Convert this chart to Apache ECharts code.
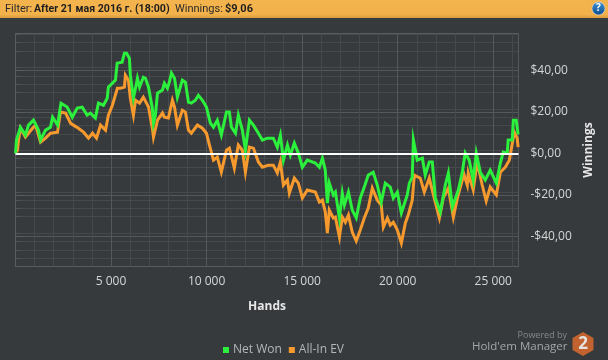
<!DOCTYPE html>
<html>
<head>
<meta charset="utf-8">
<style>html,body{margin:0;padding:0;background:#373a3d}#c{width:608px;height:360px}</style>
<script src="https://cdn.jsdelivr.net/npm/echarts@6/dist/echarts.min.js"></script>
</head>
<body>
<div id="c"></div>
<script>
const netWonHands = [0,50,260,520,680,940,1200,1310,1570,1830,1940,2200,2380,2700,2970,3230,3490,3750,3920,4180,4340,4600,4800,4860,5230,5320,5580,5700,5810,5960,6010,6170,6280,6380,6490,6690,6800,6960,7160,7220,7320,7430,7690,7790,7950,8050,8160,8320,8470,8730,8890,9050,9200,9410,9570,9780,9990,10200,10360,10560,10770,11040,11190,11300,11510,11660,11870,12030,12240,12450,12710,12920,13180,13490,13700,13860,14020,14230,14380,14590,14800,15010,15270,15690,15900,16060,16210,16320,16420,16630,16740,16950,17100,17210,17420,17620,17830,18040,18250,18460,18720,18930,19140,19350,19610,19770,19980,20190,20500,20610,20760,20820,20920,21020,21290,21440,21650,21810,21970,22230,22490,22650,22860,23170,23380,23530,23740,23950,24110,24320,24580,24840,25160,25370,25520,25730,25780,25990,26050,26200,26300];
const netWonValues = [0,6.4,12.6,8.8,13.6,16,11.2,6.4,11.2,12.6,17.4,13.6,24.2,22.3,17.4,21.8,22.3,18.4,19.4,17,24.2,23.2,26.6,31.9,35.3,43.5,44,48.3,48.3,45.9,37.7,26.6,31.4,36.2,31.9,36.7,36.2,31.9,21.8,14.5,18.4,29,30.5,33.8,31.4,34.3,38.7,36.2,27.1,35.3,34.3,24.7,24.2,25.6,28,25.6,22.3,14.5,12.6,16,8.8,19.9,19.9,12.6,9.7,18.4,11.2,1.5,16,13.6,9.7,6.4,7.3,7.3,3,8.8,-3.3,4,-0.9,4.9,0.1,-6.7,-3.3,-4.7,-6.7,-2.3,-8.1,-24,-14.4,-20.1,-18.7,-31.2,-19.2,-25,-18.7,-27.4,-31.2,-21.6,-16.3,-10.5,-9.1,-15.3,-23.5,-14.4,-16.3,-21.6,-18.7,-28.8,-20.1,-14.4,-11.5,6.4,7.3,-3.3,-2.3,-10.5,-4.2,-4.2,-21.6,-28.3,-15.3,-9.5,-25.9,-17.7,-9.1,0.1,-3.3,-12.9,0.1,-9.1,-12.9,-8.1,-14.4,-4.7,0.6,0.1,6.4,6.4,16,16,9.06];
const allInHands = [0,100,160,260,520,890,1050,1310,1570,1830,2200,2350,2620,2880,3030,3290,3560,3820,4030,4240,4450,4710,4860,5070,5330,5490,5700,5750,5910,6010,6170,6280,6490,6690,6960,7160,7220,7430,7690,7790,8000,8210,8320,8470,8730,8890,9050,9200,9520,9780,9990,10150,10360,10560,10770,11040,11190,11350,11450,11660,11870,12030,12240,12450,12710,12920,13230,13490,13700,13860,14020,14230,14330,14590,14800,15010,15270,15690,15900,16060,16210,16320,16420,16630,16740,16950,17100,17260,17420,17620,17830,18040,18250,18460,18670,18930,19140,19250,19460,19610,19770,19980,20190,20400,20550,20760,20870,21180,21390,21650,21910,22180,22380,22650,22910,23120,23380,23430,23640,23690,23950,24160,24420,24630,24840,25160,25370,25630,25840,26100,26250,26300];
const allInValues = [0,1.5,6.4,12.1,7.8,12.1,13.6,5.4,7.3,9.7,10.2,19.9,19.4,14.5,13.6,12.1,10.2,7.3,9.7,7.3,13.6,11.2,18.4,23.2,31.4,31.4,31.9,37.7,35.3,26.6,18.4,25.6,24.2,27.1,22.3,12.1,7.8,16,19.4,17.4,17,25.6,22.3,13.6,20.8,19.9,11.2,9.7,13.6,12.1,9.7,4,-3.3,-1.8,-9.1,1.5,2.5,-3.3,-7.1,4,1.5,-9.1,3,2.5,-4.2,-6.7,-5.7,-5.7,-9.5,-4.2,-15.3,-12.9,-19.2,-12,-14.4,-21.6,-17.7,-18.7,-23.5,-22.6,-28.3,-38.5,-27.4,-31.2,-30.8,-40.4,-30.8,-33.2,-29.8,-38,-42.3,-37,-31.2,-26.4,-16.8,-22.6,-25,-35.6,-31.2,-34.6,-33.2,-37,-43.3,-33.6,-29.8,-22.6,-10.5,-12,-18.7,-12,-21.6,-31.2,-21.6,-16.8,-30.8,-21.6,-12.9,-9.1,-15.3,-9.5,-17.7,-4.2,-15.3,-23,-16.3,-20.1,-9.1,-6.7,-3.3,10.2,7.3,3];
const yTicks = [-40,-20,0,20,40];
const seriesNames = ['Net Won','All-In EV'];

const pair = (xs, ys) => xs.map((x, i) => [x, ys[i]]);
const FONT = '"Open Sans", "Noto Sans", sans-serif';
const HEAD = 'Roboto, "Open Sans", sans-serif';
const chart = echarts.init(document.getElementById('c'), null, {renderer:'canvas'});

const hexPoints = [[0,-12],[10.5,-6],[10.5,6],[0,12],[-10.5,6],[-10.5,-6]];

chart.setOption({
  animation:false,
  backgroundColor:'#373a3d',
  grid:{left:15.5,right:89.5,top:33.5,bottom:93.5,show:true,borderColor:'#5a5d60',borderWidth:1,backgroundColor:'transparent'},
  legend:{
    left:218,top:339,itemWidth:6,itemHeight:6,itemGap:7,icon:'rect',
    data:seriesNames,
    textStyle:{color:'#b4b6b8',fontSize:12,fontFamily:FONT,padding:[0,0,0,-1]}
  },
  xAxis:{
    type:'value',min:0,max:26320,interval:5000,
    position:'bottom',
    name:'Hands',nameLocation:'middle',nameGap:34,
    nameTextStyle:{color:'#e6e6e6',fontWeight:'bold',fontSize:12,fontFamily:FONT},
    axisLine:{show:true,lineStyle:{color:'#5a5d60'}},
    axisTick:{show:true,length:5,lineStyle:{color:'#5a5d60'}},
    minorTick:{show:true,splitNumber:5,length:5,lineStyle:{color:'#505356'}},
    splitLine:{show:true,lineStyle:{color:'#55585b',width:1}},
    minorSplitLine:{show:true,lineStyle:{color:'#46494c',width:1}},
    axisLabel:{color:'#d6d6d6',fontSize:12,fontFamily:FONT,margin:9,
      formatter:v=>v===0?'':String(v).replace(/(\d)(?=(\d{3})$)/,'$1 ')}
  },
  yAxis:{
    type:'value',min:-54.6,max:57.8,interval:20,position:'right',
    name:'Winnings',nameLocation:'middle',nameGap:53,nameRotate:90,
    nameTextStyle:{color:'#e6e6e6',fontWeight:'bold',fontSize:12,fontFamily:FONT},
    axisLine:{show:true,lineStyle:{color:'#5a5d60'}},
    axisTick:{show:true,length:9,lineStyle:{color:'#5a5d60'},customValues:yTicks},
    minorTick:{show:true,splitNumber:5,length:5,lineStyle:{color:'#505356'}},
    splitLine:{show:true,lineStyle:{color:'#55585b',width:1}},
    minorSplitLine:{show:true,lineStyle:{color:'#46494c',width:1}},
    axisLabel:{color:'#d6d6d6',fontSize:12,fontFamily:FONT,margin:12,customValues:yTicks,
      formatter:v=>(v<0?'-':'')+'$'+Math.abs(v)+',00'}
  },
  series:[
    {name:seriesNames[1],type:'line',z:3,data:pair(allInHands,allInValues),showSymbol:false,symbol:'none',
      itemStyle:{color:'#f79a2e'},lineStyle:{color:'#f79a2e',width:3,join:'miter'}},
    {name:seriesNames[0],type:'line',z:4,data:pair(netWonHands,netWonValues),showSymbol:false,symbol:'none',
      itemStyle:{color:'#2bf03c'},lineStyle:{color:'#2bf03c',width:3,join:'miter'},
      markLine:{silent:true,z:10,symbol:'none',label:{show:false},lineStyle:{color:'#ffffff',width:2,type:'solid'},data:[{yAxis:0}]}}
  ],
  graphic:[
    {type:'rect',silent:true,z:20,shape:{x:0,y:0,width:608,height:18},
      style:{fill:new echarts.graphic.LinearGradient(0,0,0,1,[{offset:0,color:'#f4b44d'},{offset:0.8,color:'#f2b14b'},{offset:1,color:'#d89a3f'}])}},
    {type:'text',silent:true,z:21,x:5,y:9,style:{text:'Filter:',fill:'#2a2a2a',fontSize:11,fontFamily:HEAD,verticalAlign:'middle'}},
    {type:'text',silent:true,z:21,x:34,y:9,style:{text:'After 21 мая 2016 г. (18:00)',fill:'#1e1e1e',fontSize:10.6,fontWeight:'bold',fontFamily:HEAD,verticalAlign:'middle'}},
    {type:'text',silent:true,z:21,x:175,y:9,style:{text:'Winnings:',fill:'#2a2a2a',fontSize:11,fontFamily:HEAD,verticalAlign:'middle'}},
    {type:'text',silent:true,z:21,x:225,y:9,style:{text:'$9,06',fill:'#1e1e1e',fontSize:11,fontWeight:'bold',fontFamily:HEAD,verticalAlign:'middle'}},
    {type:'circle',silent:true,z:21,shape:{cx:598.5,cy:8.5,r:6.5},
      style:{fill:new echarts.graphic.LinearGradient(0,0,0,1,[{offset:0,color:'#3f8fd0'},{offset:1,color:'#0f4f8f'}]),stroke:'#e8eef4',lineWidth:0.5}},
    {type:'text',silent:true,z:22,x:598.5,y:8.5,style:{text:'?',fill:'#ffffff',fontSize:10,fontWeight:'bold',fontFamily:FONT,align:'center',verticalAlign:'middle'}},
    {type:'text',silent:true,z:21,x:567,y:335,style:{text:'Powered by',fill:'#83868a',fontSize:9,fontFamily:FONT,align:'right',verticalAlign:'middle'}},
    {type:'text',silent:true,z:21,x:567.5,y:347,style:{text:"Hold'em Manager",fill:'#a4a6a8',fontSize:11.5,fontFamily:FONT,align:'right',verticalAlign:'middle'}},
    {type:'polygon',silent:true,z:21,x:583,y:344,shape:{points:hexPoints},style:{fill:'#c1622f'}},
    {type:'text',silent:true,z:22,x:583,y:344,style:{text:'2',fill:'#e6e3df',fontSize:17,fontWeight:'bold',fontFamily:FONT,align:'center',verticalAlign:'middle'}}
  ]
});
</script>
</body>
</html>
